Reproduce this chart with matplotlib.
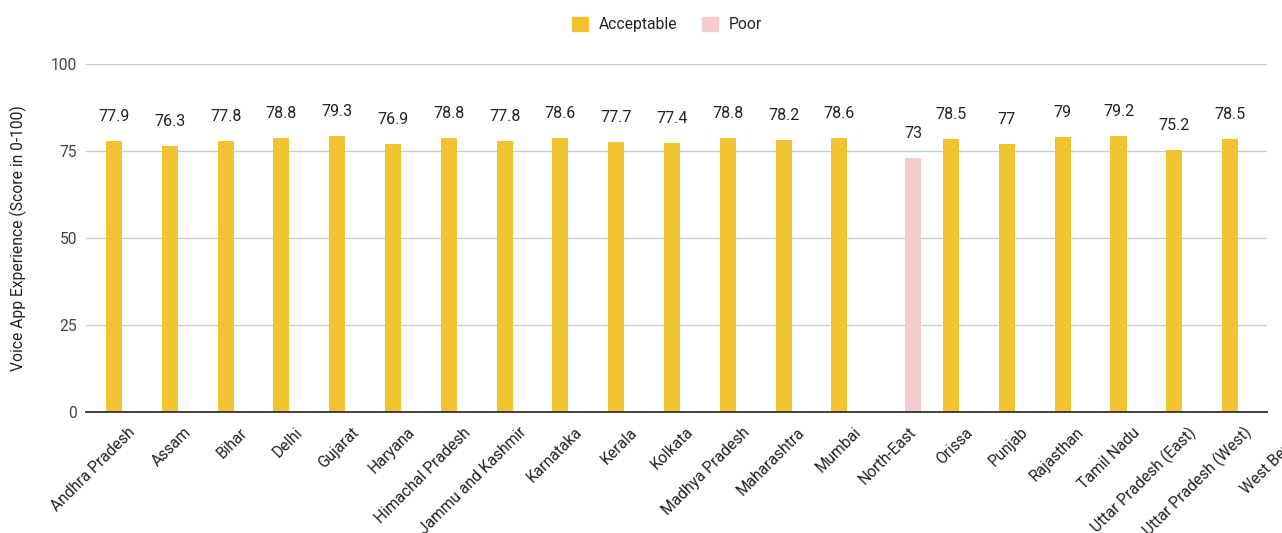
import numpy as np
import matplotlib
matplotlib.use("Agg")
import matplotlib.pyplot as plt
import matplotlib.transforms as mtransforms
from matplotlib.patches import Patch

plt.rcParams["font.family"] = ["Roboto", "DejaVu Sans"]

circles = [
    "Andhra Pradesh", "Assam", "Bihar", "Delhi", "Gujarat", "Haryana",
    "Himachal Pradesh", "Jammu and Kashmir", "Karnataka", "Kerala", "Kolkata",
    "Madhya Pradesh", "Maharashtra", "Mumbai", "North-East", "Orissa", "Punjab",
    "Rajasthan", "Tamil Nadu", "Uttar Pradesh (East)", "Uttar Pradesh (West)",
    "West Bengal",
]
acceptable = [
    77.9, 76.3, 77.8, 78.8, 79.3, 76.9, 78.8, 77.8, 78.6, 77.7, 77.4,
    78.8, 78.2, 78.6, np.nan, 78.5, 77, 79, 79.2, 75.2, 78.5, np.nan,
]
poor = [np.nan] * 14 + [73] + [np.nan] * 7

yticks = [0, 25, 50, 75, 100]

c_ok = "#F1C232"
c_poor = "#F4CCCC"
fs = 11.25

W, H = 1282, 533
fig = plt.figure(figsize=(W / 100, H / 100), dpi=100)
# plot box in pixels: x 86..1267, y 64..412 (from top)
ax = fig.add_axes([86 / W, (H - 412) / H, (1267 - 86) / W, (412 - 64) / H])

x = np.arange(len(circles))
bw = 0.287
off = 0.161
ax.bar(x - off, acceptable, bw, color=c_ok, zorder=3, label="Acceptable")
ax.bar(x + off, poor, bw, color=c_poor, zorder=3, label="Poor")

# value annotations above each bar
for xs, vals in ((x - off, acceptable), (x + off, poor)):
    for xi, v in zip(xs, vals):
        if np.isnan(v):
            continue
        ax.annotate(f"{v:g}", (xi, v), xytext=(0, 17), textcoords="offset pixels",
                    ha="center", va="bottom", fontsize=11.5, color="#222222")

ax.set_xlim(-0.663, 20.5)
ax.set_ylim(0, 100)
ax.set_yticks(yticks)
ax.tick_params(axis="y", length=0, pad=6.5, labelsize=fs, labelcolor="#444444")
ax.set_xticks([])
ax.grid(axis="y", color="#cccccc", linewidth=1, zorder=0)
for s in ("top", "right", "left"):
    ax.spines[s].set_visible(False)
ax.spines["bottom"].set_color("#333333")
ax.spines["bottom"].set_linewidth(1.3)
ax.spines["bottom"].set_zorder(4)

# category labels, rotated and anchored at their right end
trans = mtransforms.blended_transform_factory(ax.transData, ax.transAxes)
shift = mtransforms.ScaledTranslation(10 / 100, -18 / 100, fig.dpi_scale_trans)
for xi, name in zip(x, circles):
    ax.text(xi, 0, name, transform=trans + shift, rotation=45, rotation_mode="anchor",
            ha="right", va="center", fontsize=fs, color="#222222", clip_on=False)

fig.text(18 / W, 1 - 238 / H, "Voice App Experience (Score in 0-100)", rotation=90,
         ha="center", va="center", fontsize=fs, color="#222222")

handles = [Patch(color=c_ok, label="Acceptable"), Patch(color=c_poor, label="Poor")]
fig.legend(handles=handles, loc="upper center", bbox_to_anchor=(667 / W, 1 - 3 / H),
           ncol=2, frameon=False, fontsize=fs, handlelength=1.0, handleheight=1.0,
           handletextpad=0.7, columnspacing=1.6, labelcolor="#222222")

fig.savefig("out.png", dpi=100)
